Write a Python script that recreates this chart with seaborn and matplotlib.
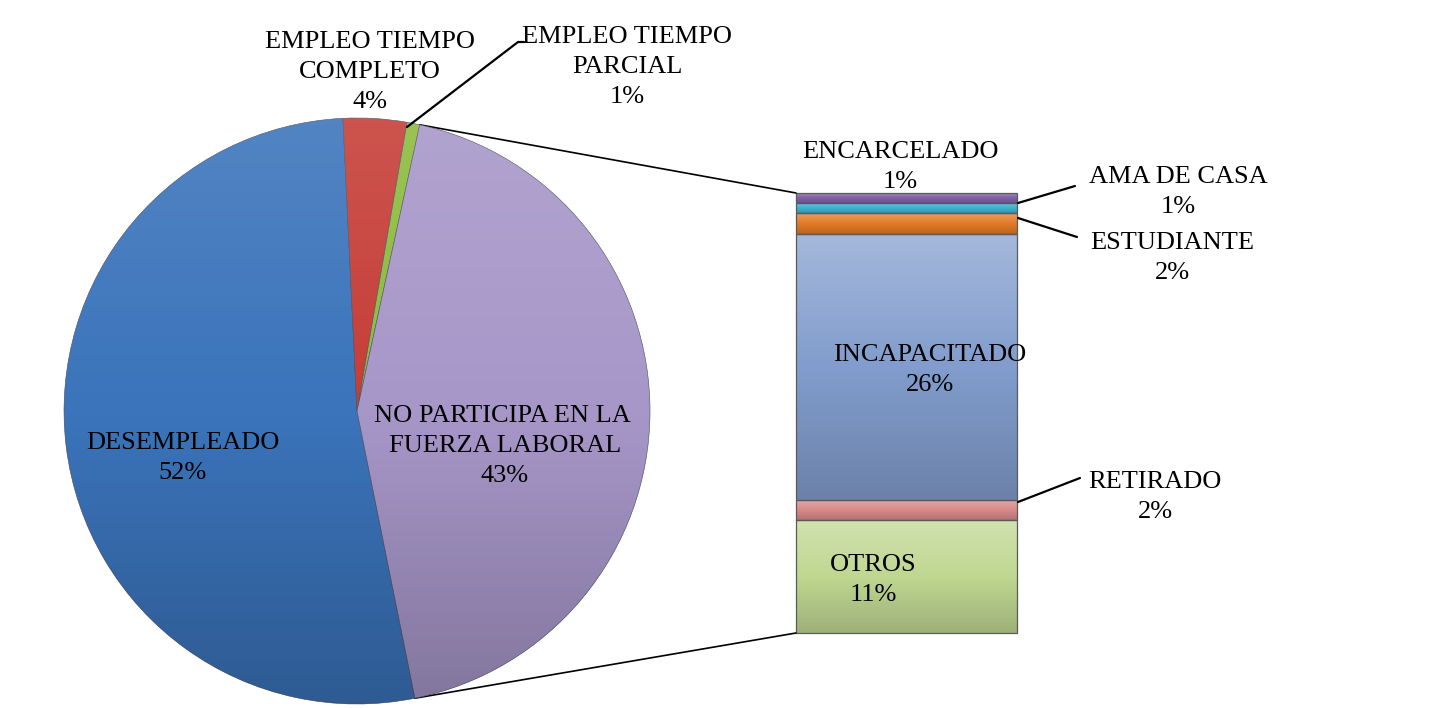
import numpy as np
import seaborn as sns
import matplotlib.pyplot as plt
from matplotlib.patches import ConnectionPatch

# datos
pie_labels = ["DESEMPLEADO", "EMPLEO TIEMPO\nCOMPLETO", "EMPLEO TIEMPO\nPARCIAL",
              "NO PARTICIPA EN LA \nFUERZA LABORAL"]
pie_vals = [52.4, 3.5, 0.7, 43.4]
pie_colors = ["#3b74bb", "#c63d37", "#8cbb3c", "#a797c9"]

bar_labels = ["OTROS", "RETIRADO", "INCAPACITADO", "ESTUDIANTE", "AMA DE CASA", "ENCARCELADO"]
bar_vals = [11, 2, 26, 2, 1, 1]
bar_colors = ["#bfd791", "#d98b8b", "#829dcd", "#e27a26", "#3db5d2", "#8262aa"]

sns.set_theme(style="white")
plt.rcParams['font.family'] = ['Liberation Serif', 'DejaVu Serif']
FS = 19


def shade(alpha_top=0.22, alpha_bot=0.22):
    # degradado: claro arriba, oscuro abajo
    t = np.linspace(0, 1, 256)
    img = np.zeros((256, 1, 4))
    a = np.where(t < 0.5, alpha_top * (1 - 2 * t), alpha_bot * (2 * t - 1))
    img[:, 0, :3] = np.where(t < 0.5, 1.0, 0.0)[:, None]
    img[:, 0, 3] = a
    return img


W, H = 1440, 708
fig = plt.figure(figsize=(W / 100, H / 100), dpi=100)

# barra apilada (debajo de los textos)
bx0, bx1, by0, by1 = 796, 1017, H - 633, H - 193
bax = fig.add_axes([bx0 / W, by0 / H, (bx1 - bx0) / W, (by1 - by0) / H])
bax.set_zorder(0)
bottom = 0
for v, c in zip(bar_vals, bar_colors):
    bars = bax.bar(0, v, bottom=bottom, width=1, color=c, linewidth=0)
    im = bax.imshow(shade(0.28, 0.18), extent=(-0.5, 0.5, bottom, bottom + v),
                    aspect="auto", origin="upper", zorder=3)
    im.set_clip_path(bars[0])
    outline = bax.bar(0, v, bottom=bottom, width=1, facecolor="none", edgecolor="#5a5a5a",
                      linewidth=0.9, zorder=4)
    outline[0].set_clip_on(False)
    bottom += v
bax.set_xlim(-0.5, 0.5)
bax.set_ylim(0, sum(bar_vals))
bax.axis("off")

ax = fig.add_axes([0, 0, 1, 1])
ax.set_zorder(1)
ax.patch.set_visible(False)

cx, cy, r = 357, H - 411, 293
start = -78.6
wedges, _ = ax.pie(pie_vals, colors=pie_colors, startangle=start, counterclock=False,
                   center=(cx, cy), radius=r, frame=True,
                   wedgeprops=dict(edgecolor="#4a4a60", linewidth=0.4))
for w in wedges:
    im = ax.imshow(shade(0.12, 0.22), extent=(cx - r, cx + r, cy - r, cy + r),
                   origin="upper", zorder=2)
    im.set_clip_path(w)
ax.set_xlim(0, W)
ax.set_ylim(0, H)
ax.set_aspect("equal")
ax.axis("off")

# lineas de conexion
p = wedges[3]
for ang, yb in [(p.theta2, sum(bar_vals)), (p.theta1, 0)]:
    x = cx + r * np.cos(np.radians(ang))
    y = cy + r * np.sin(np.radians(ang))
    con = ConnectionPatch(xyA=(-0.5, yb), coordsA=bax.transData,
                          xyB=(x, y), coordsB=ax.transData, color="black", linewidth=1.2)
    fig.add_artist(con)


def lab(x, y, s):
    ax.text(x, H - y, s, ha="center", va="center", fontsize=FS, linespacing=1.45,
            color="black", zorder=5)


pcts = [f"{v:.0f}%" for v in pie_vals]
lab(183, 458, f"{pie_labels[0]}\n{pcts[0]}")
lab(370, 72, f"{pie_labels[1]}\n{pcts[1]}")
lab(627, 67, f"{pie_labels[2]}\n{pcts[2]}")
lab(505, 446, f"{pie_labels[3]}\n{pcts[3]}")

bpos = {"OTROS": (873, 580), "RETIRADO": (1155, 497), "INCAPACITADO": (930, 370),
        "ESTUDIANTE": (1172, 258), "AMA DE CASA": (1178, 192), "ENCARCELADO": (900, 167)}
for name, v in zip(bar_labels, bar_vals):
    x, y = bpos[name]
    lab(x, y, f"{name}\n{v}%")

# lineas guia
guides = [[(407, 127), (518, 42), (524, 42)],
          [(1018, 203), (1075, 186)],
          [(1018, 218), (1077, 237)],
          [(1018, 502), (1080, 478)]]
for g in guides:
    xs = [q[0] for q in g]
    ys = [H - q[1] for q in g]
    ax.plot(xs, ys, color="black", linewidth=1.6)

fig.savefig("out.png", dpi=100)
